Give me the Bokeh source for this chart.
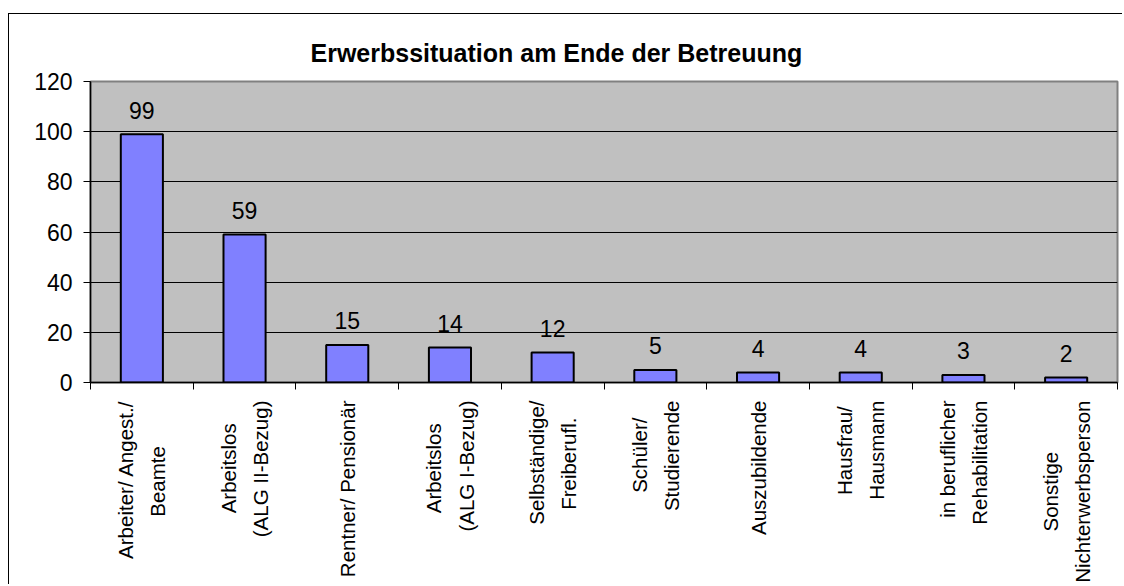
import math
from bokeh.plotting import figure
from bokeh.models import Range1d, FixedTicker, ColumnDataSource, Title
from bokeh.core.properties import value
from bokeh.embed import file_html
from bokeh.resources import INLINE

# Category labels (two-line labels; shorter line padded so lines sit centred)
categories = [
    "Arbeiter/ Angest./\nBeamte        ",
    "Arbeitslos    \n(ALG II-Bezug)",
    "Rentner/ Pensionär",
    "Arbeitslos    \n(ALG I-Bezug)",
    "Selbständige/\nFreiberufl.   ",
    "Schüler/   \nStudierende",
    "Auszubildende",
    "Hausfrau/ \nHausmann",
    "in beruflicher\nRehabilitation",
    "Sonstige         \nNichterwerbsperson",
]
counts = [99, 59, 15, 14, 12, 5, 4, 4, 3, 2]
y_ticks = [0, 20, 40, 60, 80, 100, 120]
grid_ticks = [20, 40, 60, 80, 100]
title_text = "Erwerbssituation am Ende der Betreuung"

FONT = "Liberation Sans"

xs = [i + 0.5 for i in range(len(categories))]
src = ColumnDataSource(dict(x=xs, top=counts, label=[str(c) for c in counts]))

p = figure(
    width=1114, height=571,
    x_range=Range1d(0, len(categories)), y_range=Range1d(0, 120),
    output_backend="svg", toolbar_location=None,
    min_border_left=81, min_border_right=6, min_border_top=67, min_border_bottom=190,
)
p.styles = {"border-top": "1px solid #000", "border-left": "1px solid #000",
            "margin-top": "13px", "margin-left": "8px"}

p.title = Title(text=title_text, align="left", offset=220,
                text_font=FONT, text_font_size="25px", text_font_style="bold",
                text_color="black", standoff=29)

p.background_fill_color = "#C0C0C0"
p.border_fill_color = "white"
p.outline_line_color = "#808080"
p.outline_line_width = 2

p.xgrid.visible = False
p.ygrid.ticker = FixedTicker(ticks=grid_ticks)
p.ygrid.grid_line_color = "black"
p.ygrid.grid_line_width = 1

p.vbar(x="x", top="top", bottom=0, width=0.41, source=src,
       fill_color="#8080FF", line_color="black", line_width=2)

p.text(x="x", y="top", text="label", source=src, text_align="center",
       text_baseline="alphabetic", y_offset=-24, text_font=value(FONT),
       text_font_size="23px", text_color="black")

xa = p.xaxis[0]
xa.ticker = FixedTicker(ticks=xs, minor_ticks=list(range(len(categories) + 1)))
xa.major_label_overrides = {x: c for x, c in zip(xs, categories)}
xa.major_label_orientation = math.pi / 2
xa.major_tick_out = 0
xa.major_tick_in = 0
xa.minor_tick_out = 7
xa.minor_tick_in = 0
xa.minor_tick_line_color = "black"
xa.major_label_standoff = 11
xa.major_label_text_font = FONT
xa.major_label_text_font_size = "20.5px"
xa.major_label_text_color = "black"
xa.major_label_text_line_height = 1.4
xa.axis_line_color = "black"
xa.axis_line_width = 1.5

ya = p.yaxis[0]
ya.ticker = FixedTicker(ticks=y_ticks)
ya.major_tick_out = 7
ya.major_tick_in = 0
ya.minor_tick_line_color = None
ya.major_tick_line_color = "black"
ya.major_label_standoff = 11
ya.major_label_text_font = FONT
ya.major_label_text_font_size = "23px"
ya.major_label_text_color = "black"
ya.axis_line_color = "black"
ya.axis_line_width = 1.5

open("out.html", "w").write(file_html(p, INLINE))
